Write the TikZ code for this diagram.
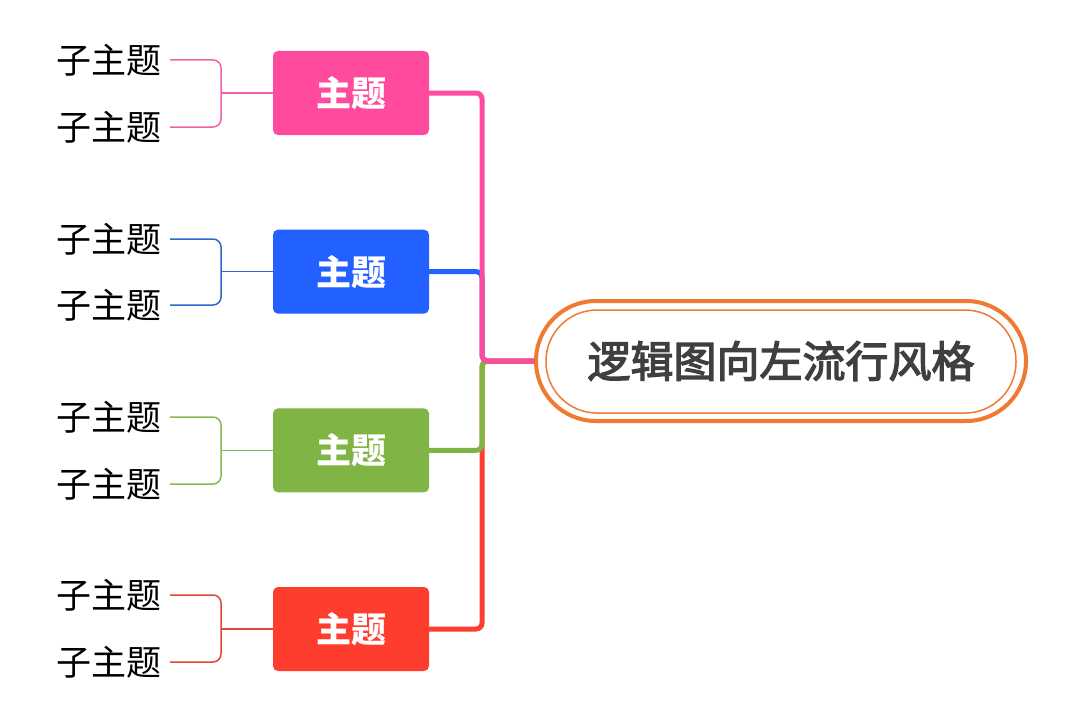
\documentclass[tikz,border=0pt]{standalone}
\usepackage{fontspec}
\setmainfont{Noto Sans CJK SC}
\newfontfamily\titlefont[FakeBold=3]{Noto Sans CJK SC}
\usetikzlibrary{positioning}

\definecolor{pinkc}{HTML}{FF4A9E}
\definecolor{pinks}{HTML}{F062A6}
\definecolor{bluec}{HTML}{2261FF}
\definecolor{blues}{HTML}{2F66CF}
\definecolor{greenc}{HTML}{80B444}
\definecolor{greens}{HTML}{86BA4E}
\definecolor{redc}{HTML}{FF3D2F}
\definecolor{reds}{HTML}{E2463B}
\definecolor{orangec}{HTML}{F17A33}
\definecolor{titlec}{HTML}{3F3F3F}

\begin{document}
\begin{tikzpicture}[x=1pt,y=-1pt,node distance=178.67pt,on grid,
    topic/.style={rectangle,rounded corners=5pt,minimum width=156pt,minimum height=84pt,
                  inner sep=0pt,outer sep=0pt,text=white,font=\fontsize{35}{40}\selectfont\bfseries},
    subtopic/.style={inner sep=0pt,anchor=east,font=\fontsize{35}{40}\selectfont},
    mainline/.style={line width=5pt,rounded corners=6pt},
    subline/.style={line width=1.5pt,rounded corners=8pt}]
    % \draw[help lines] (0,0) grid[step=50] (1075,725);
    \useasboundingbox (0,0) rectangle (1075,725);

    \node[draw=orangec,line width=4pt,rounded corners=59.9pt,minimum width=490pt,minimum height=120pt,
          inner sep=0pt,outer sep=0pt,fill=white,text=titlec,font=\fontsize{43}{48}\selectfont\titlefont]
          (c) at (781,361) {逻辑图向左流行风格};
    \draw[orangec,line width=1.5pt,rounded corners=51pt]
          ([xshift=10pt,yshift=-9pt]c.north west) rectangle ([xshift=-10pt,yshift=8pt]c.south east);

    \node[topic,fill=pinkc]  (t1) at (351,93)  {主题};
    \node[topic,fill=bluec]  (t2) [below=of t1] {主题};
    \node[topic,fill=greenc] (t3) [below=of t2] {主题};
    \node[topic,fill=redc]   (t4) [below=of t3] {主题};

    \node[subtopic] (s1) at (162,60)  {子主题};
    \node[subtopic] (s2) at (162,127) {子主题};
    \node[subtopic] (s3) at (162,239) {子主题};
    \node[subtopic] (s4) at (162,305) {子主题};
    \node[subtopic] (s5) at (162,417) {子主题};
    \node[subtopic] (s6) at (162,484) {子主题};
    \node[subtopic] (s7) at (162,595) {子主题};
    \node[subtopic] (s8) at (162,662) {子主题};

    \coordinate (hub) at (482,361);
    \coordinate[left=52pt of t1.west] (b1);
    \coordinate[left=52pt of t2.west] (b2);
    \coordinate[left=52pt of t3.west] (b3);
    \coordinate[left=52pt of t4.west] (b4);

    % main branches
    \draw[mainline,bluec]  ([xshift=-2pt]c.west) -- (hub) |- (t2.east);
    \draw[mainline,redc]   ([xshift=-2pt]c.west) -- (hub) |- (t4.east);
    \draw[mainline,greenc] ([xshift=-2pt]c.west) -- (hub) |- (t3.east);
    \draw[mainline,pinkc]  ([xshift=-2pt]c.west) -- (hub) |- (t1.east);

    % sub branches
    \draw[subline,pinks]  ([xshift=8pt]s1.east) -| (b1) |- ([xshift=8pt]s2.east);
    \draw[subline,pinks]  (b1) -- (t1.west);
    \draw[subline,blues]  ([xshift=8pt]s3.east) -| (b2) |- ([xshift=8pt]s4.east);
    \draw[subline,blues]  (b2) -- (t2.west);
    \draw[subline,greens] ([xshift=8pt]s5.east) -| (b3) |- ([xshift=8pt]s6.east);
    \draw[subline,greens] (b3) -- (t3.west);
    \draw[subline,reds]   ([xshift=8pt]s7.east) -| (b4) |- ([xshift=8pt]s8.east);
    \draw[subline,reds]   (b4) -- (t4.west);
\end{tikzpicture}
\end{document}
